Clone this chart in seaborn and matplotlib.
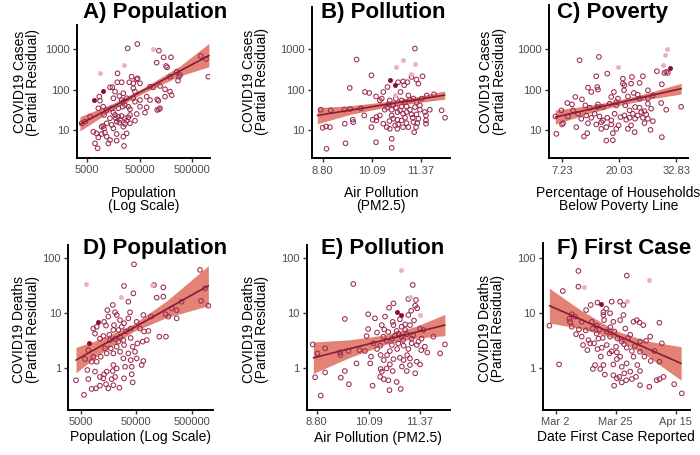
import numpy as np
import pandas as pd
import seaborn as sns
import matplotlib.pyplot as plt

# values (x, partial residual)
# A) cases ~ population
a_points = [
    (45400, 1355), (29650, 1057), (117500, 925), (145300, 632), (200600, 632), (106600, 466),
    (161000, 385), (169000, 357), (742000, 682), (940000, 575), (1040000, 209),
    (18950, 253), (35400, 209), (44150, 180), (45900, 190), (257500, 279), (298500, 230),
    (285500, 209), (273000, 167), (191900, 209), (13600, 114), (15100, 114), (18800, 152),
    (22750, 152), (31900, 152), (38100, 143), (51100, 143), (17000, 89), (24500, 81),
    (38100, 108), (41000, 89), (79400, 118), (92000, 114), (123600, 123), (153900, 102),
    (191900, 89), (206400, 73), (153900, 67), (8490, 67), (8750, 53), (15800, 61), (20550, 69),
    (22750, 55), (24500, 50), (28400, 61), (38100, 61), (41000, 50), (51100, 55), (68600, 67),
    (79400, 55), (109000, 57), (114800, 53), (8130, 34.3), (10100, 37.7), (11750, 31.2),
    (14650, 34.3), (15800, 26.8), (19650, 34.3), (23800, 37.7), (26350, 41.5), (30550, 37.7),
    (32850, 32.4), (51100, 37.7), (68600, 36.3), (109000, 31.2), (117500, 32.4), (123600, 34.3),
    (5630, 21.3), (10450, 23.4), (13600, 19.4), (17000, 23.4), (17700, 19.4), (19650, 21.3),
    (21150, 17.6), (22750, 22.1), (26350, 19.4), (28400, 16.9), (30550, 20.5), (32850, 23.4),
    (44150, 24.8), (63700, 26.8), (3900, 14.6), (4520, 16.0), (9420, 12.0), (10100, 12.5),
    (10450, 10.9), (11750, 14.6), (14650, 13.3), (15800, 10.9), (18250, 16.0), (20550, 15.1),
    (24500, 12.0), (26350, 14.0), (41000, 16.9), (32850, 14.6), (6520, 9.0), (7550, 8.2),
    (8130, 6.5), (9420, 7.9), (10900, 8.5), (11750, 6.8), (13600, 5.6), (18250, 7.9),
    (24500, 6.8), (28400, 8.2), (7020, 4.6), (7890, 3.5), (12650, 4.6), (18250, 5.4), (25200, 4.0),
]
a_light = [(92000, 1000), (25600, 408), (8750, 263)]
a_dark = [(10100, 94), (6820, 55)]
a_fit_x = [3620, 15800, 68600, 298500, 1070000]
a_fit = [13.8, 38.2, 105.5, 291, 700]
a_lo = [9.4, 32.4, 90.6, 218, 370]
a_hi = [21.3, 45.6, 123, 385, 1400]

# B) cases ~ PM2.5
b_points = [
    (11.22, 1057), (9.69, 564), (10.08, 230), (9.51, 112), (9.91, 89), (10.02, 84), (10.39, 89),
    (10.50, 118), (10.78, 155), (10.91, 163), (11.02, 155), (10.94, 131), (10.84, 89),
    (11.13, 209), (11.26, 180), (11.42, 217), (11.31, 143), (10.20, 69), (10.30, 55),
    (10.35, 61), (10.56, 55), (10.72, 61), (10.87, 55), (10.96, 50), (11.05, 73), (11.09, 57),
    (11.18, 61), (11.26, 50), (11.40, 61), (11.53, 73), (11.72, 78), (8.75, 32.4), (9.01, 31.2),
    (9.37, 32.4), (9.52, 33.6), (9.80, 35), (10.43, 32.4), (10.49, 36.3), (10.61, 32.4),
    (10.72, 36.3), (10.83, 31.2), (11.00, 39), (11.09, 32.4), (11.22, 37.7), (11.35, 32.4),
    (11.48, 28.3), (11.61, 32.4), (11.92, 31.2), (9.59, 18.3), (9.60, 16.0), (9.38, 14.6),
    (9.89, 23.4), (10.11, 18.3), (10.21, 21.3), (10.21, 17.6), (10.39, 14.6), (10.48, 12.0),
    (10.61, 23.4), (10.65, 19.4), (10.76, 18.3), (10.78, 14.0), (10.87, 17.6), (10.96, 20.5),
    (11.00, 15.1), (10.91, 12.0), (11.05, 12.0), (11.16, 20.5), (11.26, 24.8), (11.31, 19.4),
    (11.28, 15.1), (11.51, 23.4), (11.51, 17.6), (11.51, 14.6), (12.01, 20.5), (8.80, 11.6),
    (8.89, 12.5), (8.99, 12.0), (10.08, 12.0), (10.56, 10.9), (11.20, 9.0), (8.90, 3.5),
    (9.40, 4.8), (10.20, 5.1), (10.61, 6.2), (10.61, 3.7), (10.52, 44.4), (10.65, 41.5),
    (10.76, 28.3), (10.91, 25.8), (10.87, 39), (11.00, 28.3), (11.13, 24.8), (11.18, 16.0),
    (11.25, 12.0), (11.35, 41.5), (10.70, 13.3), (10.76, 10.9), (10.55, 17.0), (10.30, 23.4),
]
b_light = [(10.91, 564), (10.72, 371), (11.22, 432), (11.12, 253), (10.71, 73)]
b_dark = [(10.56, 172), (10.71, 136)]
b_fit_x = [8.66, 9.52, 10.48, 11.26, 12.0]
b_fit = [23.4, 31.5, 44.0, 57.4, 74.5]
b_lo = [14.6, 24.8, 37.7, 48.3, 59.0]
b_hi = [36.3, 40.7, 51.2, 68.0, 94.0]

# C) cases ~ poverty
c_points = [
    (15.47, 657), (11.13, 543), (30.6, 279), (30.2, 263), (30.97, 263), (28.5, 290),
    (17.34, 253), (14.87, 218), (25.35, 218), (20.86, 190), (22.9, 209), (29.62, 138),
    (26.48, 98), (13.0, 114), (15.1, 118), (15.25, 102), (13.75, 89), (20.86, 143), (21.2, 131),
    (22.7, 143), (24.6, 149), (21.1, 98), (18.84, 89), (23.3, 84), (24.2, 76), (10.16, 67),
    (11.65, 58.5), (18.24, 67), (19.74, 61), (19.37, 50), (21.98, 69), (24.6, 61), (26.48, 61),
    (27.6, 73), (29.47, 47.5), (7.01, 31.2), (8.36, 47.5), (9.41, 44), (9.63, 31.2), (12.4, 41.5),
    (13.4, 36.3), (15.1, 37.7), (15.25, 44), (16.37, 37.7), (17.87, 45.6), (19.37, 41.5),
    (21.4, 41.5), (22.36, 31.2), (23.6, 37.7), (24.6, 36.3), (25.7, 30), (26.48, 45.6),
    (27.2, 34.3), (30.6, 32.4), (33.96, 38.5), (5.67, 22.1), (7.39, 15.1), (8.51, 22.1),
    (10.76, 25.8), (11.5, 19.4), (12.6, 23.4), (13.75, 20.5), (14.5, 25.8), (15.6, 22.1),
    (16.37, 17.6), (17.34, 20.5), (18.24, 17.6), (18.99, 25.8), (20.3, 21.3), (21.2, 23.4),
    (21.6, 18.3), (22.36, 20.5), (23.1, 25.8), (23.6, 19.4), (24.2, 23.4), (25.0, 28.3),
    (25.35, 20.5), (26.1, 24.8), (26.48, 19.4), (27.6, 16.9), (7.16, 14.0), (10.38, 12.0),
    (13.0, 15.1), (14.87, 14.0), (16.0, 16.0), (17.12, 12.0), (18.24, 14.0), (19.37, 10.9),
    (19.89, 13.3), (21.98, 10.9), (22.7, 13.3), (25.7, 15.1), (5.89, 8.2), (12.1, 7.1),
    (12.85, 8.5), (16.0, 10.9), (18.6, 8.5), (23.5, 9.0), (27.07, 10.3), (29.62, 6.8),
    (17.12, 5.6), (18.6, 5.7),
]
c_light = [(30.82, 1000), (30.37, 722), (29.85, 408), (19.74, 371)]
c_dark = [(31.34, 350)]
c_fit_x = [5.67, 13.0, 19.74, 27.2, 33.96]
c_fit = [21.3, 32.4, 47.7, 73.1, 107.7]
c_lo = [14.3, 25.8, 40.9, 60.5, 79.3]
c_hi = [31.8, 40.7, 55.6, 88.5, 146]

# D) deaths ~ population
d_points = [
    (45700, 77.6), (30200, 31.2), (104700, 32.5), (154000, 29.5), (44500, 22.9), (117000, 19.1),
    (154000, 19.9), (36100, 16.1), (706000, 61.3), (869000, 28.3), (737000, 16.6), (998000, 13.6),
    (330000, 16.1), (268000, 11.3), (218000, 12.2), (170000, 9.5), (190000, 8.6), (268000, 8.0),
    (92500, 8.6), (18900, 14.0), (15100, 11.3), (22300, 9.2), (38700, 10.3), (67300, 9.2),
    (9700, 5.6), (8450, 5.2), (9050, 4.2), (13200, 6.9), (14300, 5.9), (19900, 6.0), (23900, 4.9),
    (27400, 5.6), (32800, 4.6), (39800, 5.2), (58600, 5.2), (69200, 4.6), (82800, 4.7),
    (130600, 3.7), (172000, 3.7), (11100, 3.4), (12800, 3.8), (16900, 3.2), (20800, 3.4),
    (25600, 3.7), (29400, 3.2), (39800, 3.5), (65500, 3.0), (77300, 3.2), (5990, 1.44),
    (7880, 1.29), (9700, 1.29), (11500, 1.59), (14700, 1.83), (17400, 2.26), (22300, 2.42),
    (25600, 1.96), (29400, 1.48), (36100, 1.83), (39800, 1.38), (67300, 1.33), (62800, 1.12),
    (47600, 1.96), (4120, 0.59), (6870, 0.62), (6590, 0.91), (9050, 0.85), (11100, 0.68),
    (13200, 0.76), (14700, 0.85), (18900, 0.87), (20800, 0.68), (22300, 0.97), (19400, 1.12),
    (31500, 1.04), (41500, 0.76), (5740, 0.32), (7880, 0.41), (9440, 0.42), (11100, 0.47),
    (14300, 0.50), (15700, 0.42), (19400, 0.48), (24900, 0.43), (43200, 0.54), (15700, 8.6),
    (20800, 10.3), (25600, 7.4), (30200, 6.5), (36100, 8.0), (51000, 6.9), (19400, 4.9),
    (16400, 4.0), (23900, 3.0), (30200, 2.6), (43200, 2.42), (52500, 2.79), (13700, 2.26),
    (19400, 1.83), (41500, 1.04), (51000, 1.48), (8450, 1.59), (6870, 2.1), (12800, 0.64),
    (18100, 0.62), (30200, 0.64),
]
d_light = [(6240, 33.4), (26300, 19.9), (95000, 33.0)]
d_dark = [(7160, 2.79), (10400, 6.75)]
d_fit_x = [4120, 11100, 44500, 177500, 998000]
d_fit = [1.38, 2.44, 5.36, 11.8, 31.6]
d_lo = [0.81, 1.79, 4.59, 8.28, 13.6]
d_hi = [2.36, 3.32, 6.25, 16.7, 73.3]

# E) deaths ~ PM2.5
e_points = [
    (9.71, 33.9), (11.19, 32.5), (11.08, 18.0), (11.27, 17.3), (11.25, 13.6), (11.30, 12.2),
    (10.71, 15.0), (9.50, 7.8), (10.08, 9.5), (10.25, 8.0), (10.50, 8.6), (11.08, 9.2),
    (10.08, 5.1), (10.42, 6.0), (10.69, 6.9), (10.71, 6.0), (10.91, 5.6), (11.0, 6.2),
    (11.12, 6.0), (11.37, 5.2), (11.45, 4.9), (11.0, 4.9), (10.79, 4.7), (10.04, 3.8),
    (10.46, 3.7), (10.67, 3.4), (10.83, 4.2), (10.91, 3.7), (11.04, 4.1), (11.16, 3.4),
    (11.41, 3.4), (11.70, 3.7), (8.70, 2.67), (8.82, 1.83), (9.01, 2.26), (9.38, 1.91),
    (9.39, 1.71), (9.59, 2.02), (9.86, 2.1), (10.0, 2.02), (10.21, 2.79), (10.38, 2.53),
    (10.54, 3.1), (10.67, 2.6), (10.83, 2.79), (10.96, 2.53), (11.16, 2.79), (11.29, 2.6),
    (11.49, 2.42), (11.99, 2.67), (11.87, 1.83), (10.39, 1.71), (10.47, 1.38), (10.71, 1.44),
    (10.87, 1.52), (10.96, 1.38), (11.12, 1.48), (11.29, 1.29), (10.62, 2.02), (9.50, 0.87),
    (9.79, 1.2), (10.13, 1.2), (10.39, 0.95), (10.42, 0.85), (10.54, 0.97), (10.69, 0.87),
    (11.04, 0.87), (11.12, 1.12), (11.25, 0.79), (11.37, 1.15), (8.76, 0.67), (9.01, 0.82),
    (9.40, 0.66), (9.60, 0.50), (10.19, 0.47), (10.38, 0.68), (10.47, 0.62), (10.58, 0.59),
    (10.61, 0.39), (10.79, 0.55), (10.89, 0.41), (8.90, 0.31), (10.30, 4.4), (10.58, 4.5),
    (10.75, 3.9), (10.95, 3.2), (11.08, 2.2), (11.20, 3.9), (11.33, 3.0), (10.55, 1.7),
    (10.80, 2.2), (11.05, 1.7), (11.40, 2.1), (10.30, 2.2), (10.15, 1.6), (10.62, 1.15),
    (10.92, 1.05), (11.55, 1.9), (10.48, 5.0), (10.87, 7.7), (11.22, 7.3), (10.60, 12.5),
    (11.15, 11.0),
]
e_light = [(10.89, 61.2), (11.37, 9.2), (11.12, 19.5)]
e_dark = [(10.79, 10.3), (10.89, 9.2)]
e_fit_x = [8.717, 9.629, 10.541, 11.287, 11.99]
e_fit = [1.52, 2.24, 3.28, 4.49, 6.03]
e_lo = [0.79, 1.55, 2.71, 3.49, 3.85]
e_hi = [2.95, 3.25, 4.02, 5.78, 9.46]

# F) deaths ~ date of first case (days after Mar 1)
f_points = [
    (9.31, 58.7), (27.03, 48.2), (9.31, 30.3), (3.57, 25.2), (-1.32, 5.86), (2.22, 1.15),
    (16.28, 15.5), (21.5, 16.1), (24.6, 16.1), (25.8, 14.0), (13.83, 14.0), (6.87, 9.5),
    (8.09, 8.6), (6.25, 6.9), (6.87, 5.6), (10.53, 6.9), (12.12, 11.3), (14.2, 6.9), (16.0, 5.9),
    (18.47, 10.3), (18.47, 9.2), (18.72, 7.4), (20.9, 9.9), (22.1, 6.9), (24.6, 7.4), (29.5, 6.9),
    (30.7, 7.4), (31.7, 6.7), (33.1, 6.0), (39.0, 6.65), (25.8, 9.2), (8.45, 4.1), (10.53, 3.7),
    (12.98, 3.2), (16.0, 4.2), (16.64, 3.4), (18.23, 3.5), (19.7, 4.6), (20.9, 3.7), (23.6, 3.4),
    (25.2, 3.0), (28.3, 4.0), (31.9, 3.0), (35.6, 3.7), (34.1, 3.1), (39.9, 2.79), (12.6, 2.1),
    (13.6, 2.79), (15.05, 2.79), (16.3, 2.19), (17.9, 2.32), (19.7, 2.6), (23.1, 2.42),
    (23.4, 1.91), (27.0, 2.32), (28.9, 2.02), (29.5, 1.59), (31.9, 1.96), (24.6, 1.59),
    (20.7, 1.83), (37.2, 2.02), (23.4, 1.44), (18.47, 1.12), (22.1, 1.15), (25.2, 1.04),
    (28.3, 0.85), (30.9, 1.12), (31.9, 0.87), (35.8, 1.33), (39.0, 1.29), (15.4, 1.12),
    (14.6, 0.95), (17.3, 0.95), (22.1, 0.73), (23.4, 0.64), (24.3, 0.68), (26.1, 0.79),
    (26.8, 0.59), (28.9, 0.62), (30.4, 0.68), (31.9, 0.48), (35.3, 0.45), (38.0, 0.59),
    (39.0, 0.62), (40.5, 0.68), (44.4, 0.50), (47.2, 0.34), (22.4, 0.47), (25.2, 0.54),
    (19.5, 12.0), (17.0, 5.0), (21.0, 5.5), (22.5, 4.6), (26.5, 5.2), (27.5, 3.5), (12.0, 4.8),
    (14.5, 5.2), (11.0, 2.6), (17.5, 1.6), (21.5, 2.0), (26.0, 2.7), (30.0, 2.5), (33.5, 1.6),
    (19.0, 0.75), (27.0, 1.2), (6.0, 7.8), (9.5, 5.0),
]
f_light = [(35.3, 40.2), (11.39, 29.5), (27.03, 16.6)]
f_dark = [(17.62, 14.6)]
f_fit_x = [-1.32, 9.92, 22.75, 34.36, 46.95]
f_fit = [13.6, 7.73, 4.05, 2.26, 1.2]
f_lo = [6.56, 5.22, 3.43, 1.66, 0.59]
f_hi = [28.3, 11.5, 4.8, 3.08, 2.42]

pop_ticks = [5000, 50000, 500000]
pm_ticks = [8.80, 10.09, 11.37]
pov_ticks = [7.23, 20.03, 32.83]
date_ticks = [1, 23, 45]
date_labels = ["Mar 2", "Mar 25", "Apr 15"]
case_ticks = [10, 100, 1000]
death_ticks = [1, 10, 100]

RING = "#9B2C50"
LIGHT = "#E8B3C1"
DARK = "#8A0C2E"
LINE = "#8B1A38"
BAND = "#DD6D5D"

W, H = 700, 455

sns.set_style("ticks")
plt.rcParams["font.family"] = ["Liberation Sans", "DejaVu Sans"]
plt.rcParams["text.color"] = "black"
plt.rcParams["axes.labelcolor"] = "black"

fig = plt.figure(figsize=(7, 4.55), dpi=100)


def add_ax(left, top, right, bottom):
    return fig.add_axes([left / W, 1 - bottom / H, (right - left) / W, (bottom - top) / H])


def draw_panel(ax, points, light, dark, fit_x, fit, lo, hi):
    ax.fill_between(fit_x, lo, hi, color=BAND, alpha=0.85, linewidth=0, zorder=1)
    pts = pd.DataFrame(points, columns=["x", "y"])
    sns.scatterplot(data=pts, x="x", y="y", ax=ax, marker="o", s=11, color=RING,
                    facecolor="none", edgecolor=RING, linewidth=0.75, zorder=2)
    lt = pd.DataFrame(light, columns=["x", "y"])
    sns.scatterplot(data=lt, x="x", y="y", ax=ax, marker="o", s=9, color=LIGHT,
                    edgecolor=LIGHT, linewidth=0.5, zorder=2)
    dk = pd.DataFrame(dark, columns=["x", "y"])
    sns.scatterplot(data=dk, x="x", y="y", ax=ax, marker="o", s=9, color=DARK,
                    edgecolor=DARK, linewidth=0.5, zorder=2)
    sns.lineplot(x=fit_x, y=fit, ax=ax, color=LINE, linewidth=1.2, zorder=3)


def style(ax, xticks, xlabels, yticks, xlim, ylim, xlabel, ylabel, ylab_x, ylab_y, xlab_y):
    ax.set_yscale("log")
    ax.set_xlim(xlim)
    ax.set_ylim(ylim)
    ax.set_xticks(xticks)
    ax.set_xticklabels(xlabels)
    ax.set_yticks(yticks)
    ax.set_yticklabels([str(t) for t in yticks])
    ax.minorticks_off()
    for side in ["top", "right"]:
        ax.spines[side].set_visible(False)
    for side in ["left", "bottom"]:
        ax.spines[side].set_linewidth(1.4)
        ax.spines[side].set_color("black")
    ax.tick_params(axis="both", length=3.2, width=1.0, color="#333333",
                   labelsize=8, labelcolor="#4D4D4D", pad=2)
    ax.set_xlabel(xlabel, fontsize=10, linespacing=0.9, color="black")
    ax.set_ylabel(ylabel, fontsize=10, linespacing=0.95, color="black")
    ax.yaxis.set_label_coords(ylab_x, ylab_y)
    ax.xaxis.set_label_coords(0.5, xlab_y)
    ax.set_facecolor("white")


cases_lab = "COVID19 Cases\n(Partial Residual)"
deaths_lab = "COVID19 Deaths\n(Partial Residual)"

# top row
ax = add_ax(76.7, 25, 210, 157.7)
ax.set_xscale("log")
ax.set_yscale("log")
draw_panel(ax, a_points, a_light, a_dark, a_fit_x, a_fit, a_lo, a_hi)
style(ax, pop_ticks, ["5000", "50000", "500000"], case_ticks, (3133, 1.12e6), (2.04, 4010),
      "Population\n(Log Scale)", cases_lab, -0.272, 0.57, -0.213)

ax = add_ax(312, 7, 450, 158.3)
ax.set_yscale("log")
draw_panel(ax, b_points, b_light, b_dark, b_fit_x, b_fit, b_lo, b_hi)
style(ax, pm_ticks, ["8.80", "10.09", "11.37"], case_ticks, (8.52, 12.14), (2.04, 11200),
      "Air Pollution\n(PM2.5)", cases_lab, -0.309, 0.51, -0.183)

ax = add_ax(549, 5, 688, 158.3)
ax.set_yscale("log")
draw_panel(ax, c_points, c_light, c_dark, c_fit_x, c_fit, c_lo, c_hi)
style(ax, pov_ticks, ["7.23", "20.03", "32.83"], case_ticks, (4.24, 35.5), (2.04, 12600),
      "Percentage of Households\nBelow Poverty Line", cases_lab, -0.304, 0.50, -0.181)

# bottom row
ax = add_ax(68.3, 245, 213, 410)
ax.set_xscale("log")
ax.set_yscale("log")
draw_panel(ax, d_points, d_light, d_dark, d_fit_x, d_fit, d_lo, d_hi)
style(ax, pop_ticks, ["5000", "50000", "500000"], death_ticks, (2990, 1.21e6), (0.169, 175),
      "Population (Log Scale)", deaths_lab, -0.196, 0.49, -0.121)

ax = add_ax(306.7, 245, 450, 410)
ax.set_yscale("log")
draw_panel(ax, e_points, e_light, e_dark, e_fit_x, e_fit, e_lo, e_hi)
style(ax, pm_ticks, ["8.80", "10.09", "11.37"], death_ticks, (8.551, 12.116), (0.169, 175),
      "Air Pollution (PM2.5)", deaths_lab, -0.261, 0.49, -0.127)

ax = add_ax(542.7, 243, 690, 410)
ax.set_yscale("log")
draw_panel(ax, f_points, f_light, f_dark, f_fit_x, f_fit, f_lo, f_hi)
style(ax, date_ticks, date_labels, death_ticks, (-3.77, 50.2), (0.169, 190),
      "Date First Case Reported", deaths_lab, -0.256, 0.49, -0.120)

titles = [("A) Population", 83.3, 18.3), ("B) Pollution", 320.7, 18.3), ("C) Poverty", 556.7, 18.3),
          ("D) Population", 83.3, 254.3), ("E) Pollution", 320.7, 254.3), ("F) First Case", 557.3, 254.3)]
for txt, px, py in titles:
    fig.text(px / W, 1 - py / H, txt, fontsize=16, fontweight="bold", color="black",
             ha="left", va="baseline")

fig.savefig("out.png", dpi=100, facecolor="white")
